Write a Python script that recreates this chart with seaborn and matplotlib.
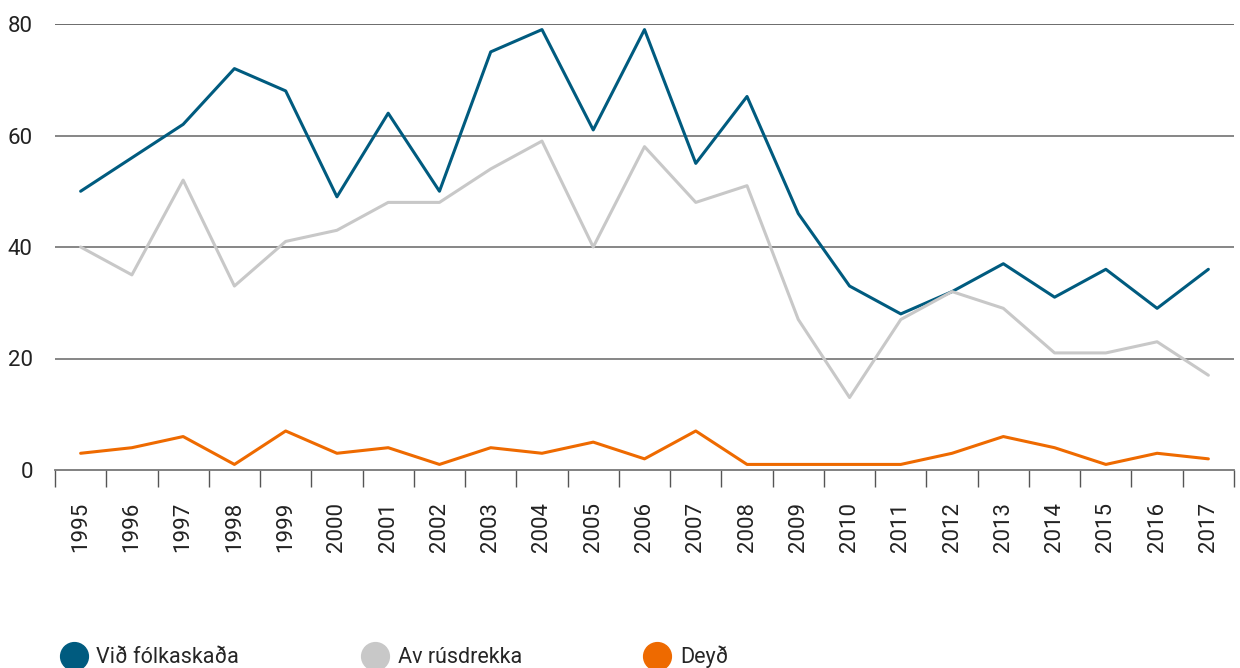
import numpy as np
import pandas as pd
import matplotlib
matplotlib.use("Agg")
import matplotlib.pyplot as plt
from matplotlib.lines import Line2D
import seaborn as sns

years = list(range(1995, 2018))
vid_folkaskada = [50, 56, 62, 72, 68, 49, 64, 50, 75, 79, 61, 79, 55, 67, 46, 33, 28, 32, 37, 31, 36, 29, 36]
av_rusdrekka = [40, 35, 52, 33, 41, 43, 48, 48, 54, 59, 40, 58, 48, 51, 27, 13, 27, 32, 29, 21, 21, 23, 17]
deyd = [3, 4, 6, 1, 7, 3, 4, 1, 4, 3, 5, 2, 7, 1, 1, 1, 1, 3, 6, 4, 1, 3, 2]

series_names = ["Við fólkaskaða", "Av rúsdrekka", "Deyð"]
colors = ["#005B7F", "#C8C8C8", "#EE6A00"]
y_ticks = [0, 20, 40, 60, 80]

df = pd.DataFrame({
    "year": years * 3,
    "value": vid_folkaskada + av_rusdrekka + deyd,
    "series": [series_names[0]] * len(years) + [series_names[1]] * len(years) + [series_names[2]] * len(years),
})

sns.set_style("white")
plt.rcParams['font.family'] = ['Roboto', 'DejaVu Sans']

fig = plt.figure(figsize=(12.4, 6.68), dpi=100)
ax = fig.add_axes([55 / 1240, 1 - 470 / 668, (1234 - 55) / 1240, (470 - 24) / 668])

# gridlines behind the data
for v in y_ticks[1:]:
    ax.axhline(v, color="#444444" if v == 80 else "#666666", lw=1.1, zorder=0)

sns.lineplot(data=df, x="year", y="value", hue="series", hue_order=series_names,
             palette=colors, linewidth=2.2, legend=False, ax=ax, zorder=3)

ax.set_xlim(years[0] - 0.5, years[-1] + 0.5)
ax.set_ylim(0, 80)
ax.set_xlabel("")
ax.set_ylabel("")

# ticks between categories, labels at centres
ax.set_xticks(np.arange(years[0] - 0.5, years[-1] + 1, 1.0))
ax.set_xticklabels([])
ax.set_xticks(years, minor=True)
ax.set_xticklabels([str(y) for y in years], minor=True, rotation=90, fontsize=16)
ax.tick_params(axis="x", which="major", length=12, width=1, color="#555555", direction="out", bottom=True)
ax.tick_params(axis="x", which="minor", length=0, pad=23, labelcolor="#222222")

ax.set_yticks(y_ticks)
ax.set_yticklabels([str(v) for v in y_ticks], fontsize=16, color="#222222")
ax.tick_params(axis="y", length=0, pad=16)

for side in ["top", "right", "left"]:
    ax.spines[side].set_visible(False)
ax.spines["bottom"].set_color("#777777")
ax.spines["bottom"].set_linewidth(1.3)

handles = [Line2D([0], [0], marker="o", linestyle="", markersize=20,
                  markerfacecolor=c, markeredgecolor=c) for c in colors]
fig.legend(handles, series_names, loc="center left", bbox_to_anchor=(48 / 1240, 1 - 657 / 668),
           ncol=3, frameon=False, fontsize=15.5, borderpad=0, handletextpad=0.35,
           columnspacing=5.6, handlelength=1.4)

fig.savefig("out.png", dpi=100)
